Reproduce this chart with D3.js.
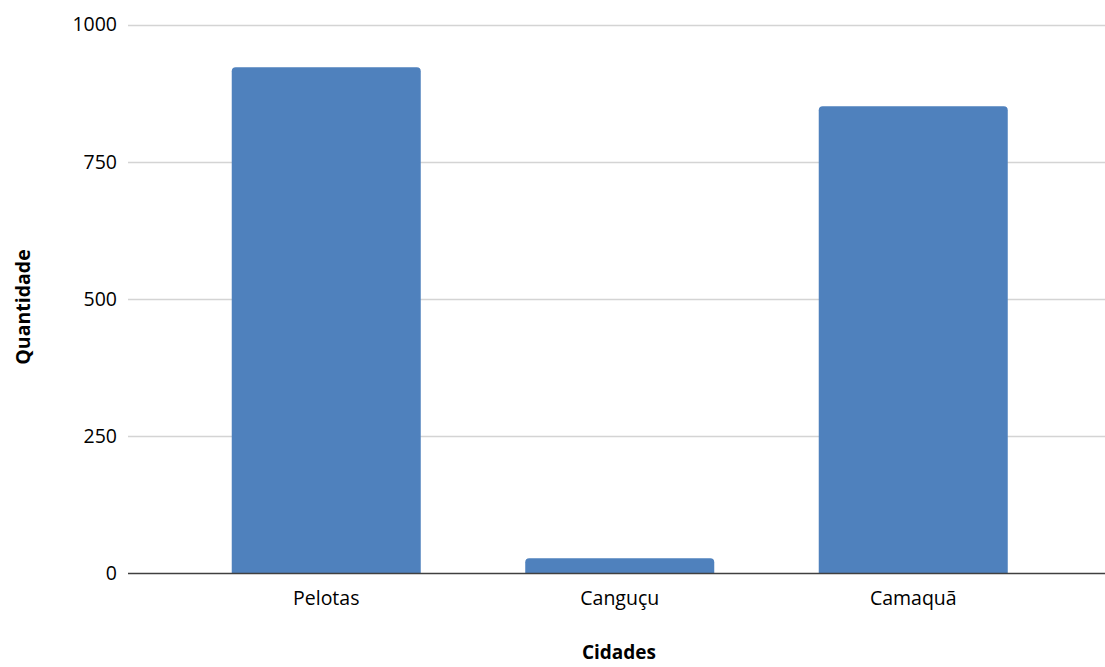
<!DOCTYPE html>
<html>
<head>
<meta charset="utf-8">
<script src="https://cdn.jsdelivr.net/npm/d3@7"></script>
<style>
  html, body { margin: 0; padding: 0; background: #fff; }
  svg { display: block; }
  text { font-family: "Open Sans", "Noto Sans", sans-serif; fill: #000; }
</style>
</head>
<body>
<svg id="chart" width="1105" height="667"></svg>
<script>
const categories = ["Pelotas", "Canguçu", "Camaquã"];
const values = [922, 28, 851];
const yTicks = [0, 250, 500, 750, 1000];
const xTitle = "Cidades";
const yTitle = "Quantidade";

const svg = d3.select("#chart");
const plotLeft = 128, plotRight = 1105;
const y0 = 573.5, yTop = 24.5;

const x = d3.scaleBand().domain(categories).range([179.5, 1060]).paddingInner(0.356).paddingOuter(0.178);
const y = d3.scaleLinear().domain([0, 1000]).range([y0, yTop]);

// gridlines
svg.append("g").selectAll("line").data(yTicks.filter(d => d > 0)).join("line")
  .attr("x1", plotLeft).attr("x2", plotRight)
  .attr("y1", d => Math.round(y(d)) + 0.5).attr("y2", d => Math.round(y(d)) + 0.5)
  .attr("stroke", "#d4d4d4").attr("stroke-width", 1.5);

// y tick labels
svg.append("g").selectAll("text").data(yTicks).join("text")
  .attr("x", 117).attr("y", d => y(d))
  .attr("dy", "0.35em").attr("text-anchor", "end")
  .style("font-size", "19.5px")
  .text(d => d);

// bars with rounded top corners
function barPath(x0, w, top, bottom, r) {
  const p = d3.path();
  r = Math.min(r, (bottom - top));
  p.moveTo(x0, bottom);
  p.lineTo(x0, top + r);
  p.quadraticCurveTo(x0, top, x0 + r, top);
  p.lineTo(x0 + w - r, top);
  p.quadraticCurveTo(x0 + w, top, x0 + w, top + r);
  p.lineTo(x0 + w, bottom);
  p.closePath();
  return p.toString();
}
svg.append("g").selectAll("path").data(categories.map((c, i) => ({c, v: values[i]}))).join("path")
  .attr("d", d => barPath(x(d.c), x.bandwidth(), y(d.v), y(0), 4))
  .attr("fill", "#4f81bd");

// baseline
svg.append("line")
  .attr("x1", plotLeft).attr("x2", plotRight)
  .attr("y1", y(0)).attr("y2", y(0))
  .attr("stroke", "#404040").attr("stroke-width", 1.5);

// x labels
svg.append("g").selectAll("text").data(categories).join("text")
  .attr("x", d => x(d) + x.bandwidth() / 2).attr("y", 598)
  .attr("dy", "0.35em").attr("text-anchor", "middle")
  .style("font-size", "19.5px")
  .text(d => d);

// axis titles
svg.append("text")
  .attr("x", 619).attr("y", 652).attr("dy", "0.35em")
  .attr("text-anchor", "middle")
  .style("font-size", "19px").style("font-weight", "bold")
  .text(xTitle);

svg.append("text")
  .attr("transform", "translate(23,307) rotate(-90)")
  .attr("dy", "0.35em").attr("text-anchor", "middle")
  .style("font-size", "19.5px").style("font-weight", "bold")
  .text(yTitle);
</script>
</body>
</html>
